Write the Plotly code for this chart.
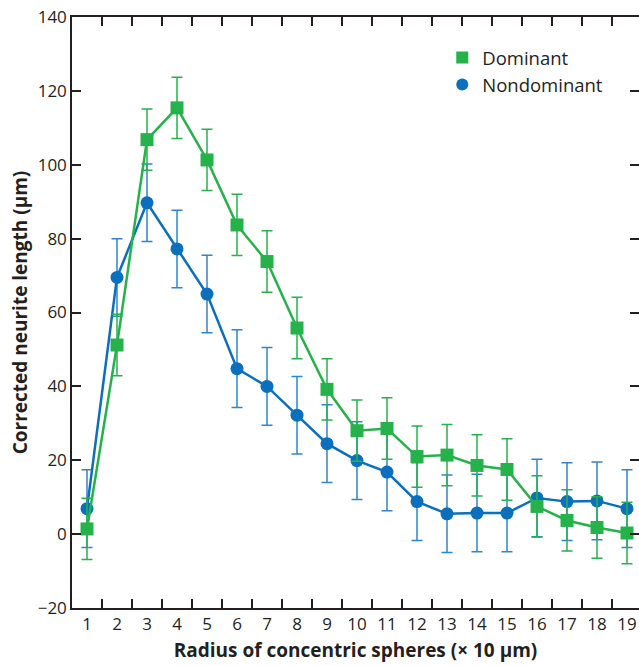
import plotly.graph_objects as go

radius = [str(i) for i in range(1, 20)]
dominant = [1.4, 51.2, 106.8, 115.4, 101.3, 83.7, 73.8, 55.8, 39.2, 28.0, 28.6, 21.0, 21.4, 18.6, 17.5, 7.5, 3.7, 1.8, 0.3]
dominant_err = [8.3] * 19
nondominant = [6.9, 69.5, 89.7, 77.2, 65.0, 44.8, 40.0, 32.2, 24.5, 19.9, 16.8, 8.8, 5.5, 5.7, 5.7, 9.8, 8.8, 9.0, 6.9]
nondominant_err = [10.5] * 19
y_ticks = [-20, 0, 20, 40, 60, 80, 100, 120, 140]
y_labels = ["\u221220", "0", "20", "40", "60", "80", "100", "120", "140"]

green = "#25b24b"
blue = "#0a6fbd"
txt = "#231f20"
font = "Open Sans"

fig = go.Figure()
fig.add_trace(go.Scatter(
    x=radius, y=nondominant, name="Nondominant", mode="lines+markers", showlegend=False,
    line=dict(color=blue, width=2.5),
    marker=dict(symbol="circle", size=13, color=blue),
    error_y=dict(type="data", array=nondominant_err, color="#2f86cc", thickness=1.5, width=5.5),
))
fig.add_trace(go.Scatter(
    x=radius, y=dominant, name="Dominant", mode="lines+markers", showlegend=False,
    line=dict(color=green, width=2.5),
    marker=dict(symbol="square", size=13, color=green),
    error_y=dict(type="data", array=dominant_err, color=green, thickness=1.5, width=5.5),
))
# legend-only entries (markers only, as in the original key)
fig.add_trace(go.Scatter(x=[None], y=[None], name="Dominant", mode="markers",
                         marker=dict(symbol="square", size=12, color=green)))
fig.add_trace(go.Scatter(x=[None], y=[None], name="Nondominant", mode="markers",
                         marker=dict(symbol="circle", size=12, color=blue)))

fig.update_layout(
    width=639, height=666,
    margin=dict(l=72, r=0, t=17, b=58),
    paper_bgcolor="white", plot_bgcolor="white",
    font=dict(family=font, color=txt, size=17),
    showlegend=True,
    legend=dict(x=0.653, y=0.963, xanchor="left", yanchor="top",
                font=dict(size=18.5, color=txt), bgcolor="rgba(0,0,0,0)", itemwidth=30,
                tracegroupgap=0),
    xaxis=dict(
        type="category", range=[-0.5, 18.4], tickson="boundaries", automargin=False,
        ticks="inside", ticklen=9, tickwidth=1.5, tickcolor="#231f20",
        showline=True, linecolor="#231f20", linewidth=1.5, mirror="ticks",
        showgrid=False, zeroline=False,
        tickfont=dict(size=17, color=txt),
        title=dict(text="<b>Radius of concentric spheres (× 10 μm)</b>", font=dict(size=19, color=txt), standoff=10),
    ),
    yaxis=dict(
        range=[-20, 140], tickvals=y_ticks, ticktext=y_labels, automargin=False,
        ticks="inside", ticklen=9, tickwidth=1.5, tickcolor="#231f20",
        showline=True, linecolor="#231f20", linewidth=1.5, mirror="ticks",
        showgrid=False, zeroline=False,
        tickfont=dict(size=17, color=txt),
        title=dict(text="<b>Corrected neurite length (μm)</b>", font=dict(size=19, color=txt), standoff=5),
    ),
)

fig.write_html("out.html", config={"displayModeBar": False},
               post_script="document.body.style.margin='0';")
